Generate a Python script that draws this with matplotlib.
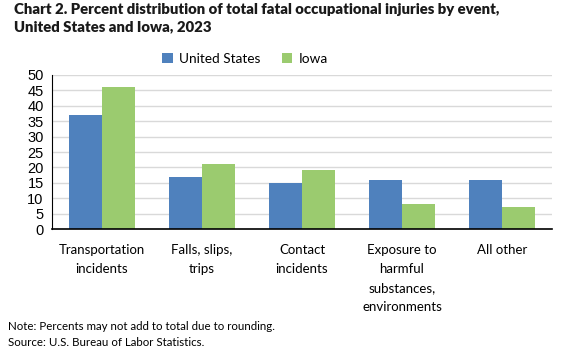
import matplotlib
matplotlib.use("Agg")
import matplotlib.pyplot as plt
import numpy as np

categories = ["Transportation\nincidents", "Falls, slips,\ntrips", "Contact\nincidents",
              "Exposure to\nharmful\nsubstances,\nenvironments", "All other"]
us_values = [37, 17, 15, 16, 16]
iowa_values = [46, 21, 19, 8, 7]
series_names = ["United States", "Iowa"]
yticks = [0, 5, 10, 15, 20, 25, 30, 35, 40, 45, 50]

blue = "#4F81BD"
green = "#9BCB6F"

fig = plt.figure(figsize=(5.66, 3.63), dpi=100)
ax = fig.add_axes([52/566, 1-229/363, 500/566, 154/363])

x = np.arange(len(categories))
w = 0.33
b1 = ax.bar(x - w/2, us_values, w, color=blue, label=series_names[0], zorder=3)
b2 = ax.bar(x + w/2, iowa_values, w, color=green, label=series_names[1], zorder=3)

ax.set_xlim(-0.5, len(categories) - 0.5)
ax.set_ylim(0, 50)
ax.set_yticks(yticks)
ax.set_yticklabels([str(t) for t in yticks], fontfamily="Liberation Sans", fontsize=10.5)
ax.set_xticks(x)
ax.set_xticklabels(categories, fontfamily="Lato", fontsize=9.5, linespacing=1.7, va="top")
ax.tick_params(axis="both", length=0)
ax.tick_params(axis="x", pad=11)
ax.tick_params(axis="y", pad=6)
ax.grid(axis="y", color="#D9D9D9", linewidth=1, zorder=0)
for s in ["top", "right"]:
    ax.spines[s].set_visible(False)
ax.spines["left"].set_color("black")
ax.spines["bottom"].set_color("black")
ax.spines["bottom"].set_linewidth(1.2)
ax.spines["left"].set_zorder(4)
ax.spines["bottom"].set_zorder(4)

leg = fig.legend(handles=[b1, b2], labels=series_names, loc="center", bbox_to_anchor=(245/566, 1-59/363),
                 ncol=2, frameon=False, prop={"family": "Lato", "size": 9.8},
                 handlelength=0.75, handleheight=0.75, handletextpad=0.45, columnspacing=1.6)

fig.text(14/566, 1-18/363, "Chart 2. Percent distribution of total fatal occupational injuries by event,\nUnited States and Iowa, 2023",
         fontfamily="Lato", fontweight="heavy", fontsize=10.7, va="center", ha="left", linespacing=1.45, color="#1a1a1a")
fig.text(8/566, 1-326/363, "Note: Percents may not add to total due to rounding.", fontfamily="Lato", fontsize=8.3, va="center")
fig.text(8/566, 1-342/363, "Source: U.S. Bureau of Labor Statistics.", fontfamily="Lato", fontsize=8.3, va="center")

fig.savefig("out.png", dpi=100)
